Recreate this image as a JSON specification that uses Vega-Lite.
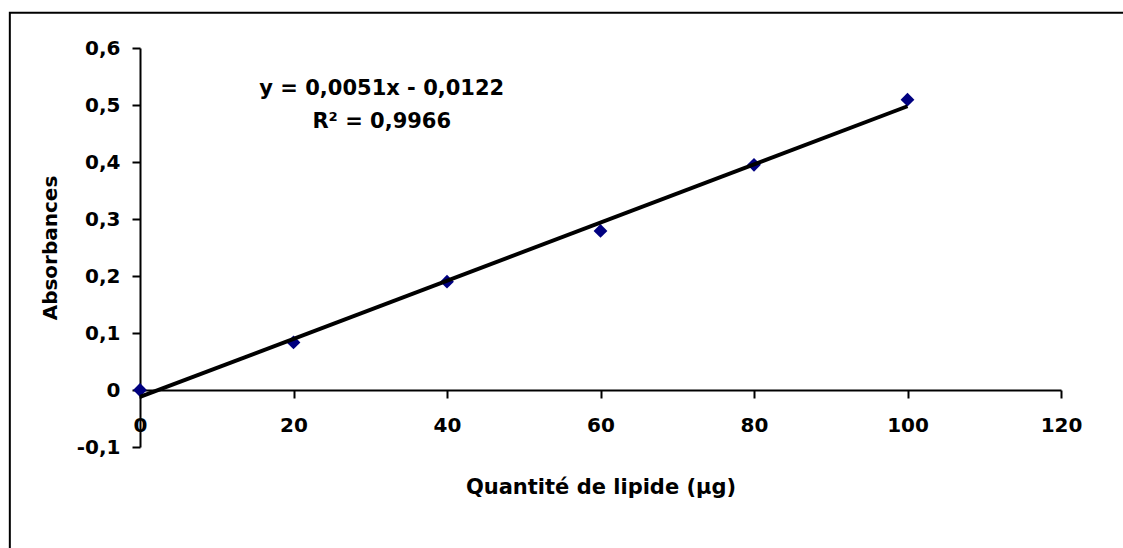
{
  "$schema": "https://vega.github.io/schema/vega-lite/v6.json",
  "width": 921,
  "height": 399,
  "autosize": {"type": "none"},
  "padding": {"left": 140, "top": 48, "right": 62, "bottom": 101},
  "background": "white",
  "config": {
    "view": {"stroke": null},
    "axis": {
      "labelFont": "DejaVu Sans",
      "labelFontWeight": "bold",
      "labelFontSize": 20,
      "labelColor": "black",
      "titleFont": "DejaVu Sans",
      "titleFontWeight": "bold",
      "titleColor": "black",
      "domainColor": "black",
      "tickColor": "black",
      "domainWidth": 2,
      "tickWidth": 2,
      "tickSize": 8,
      "grid": false
    }
  },
  "data": {
    "values": [
      {"quantite": 0, "absorbance": 0},
      {"quantite": 20, "absorbance": 0.0835},
      {"quantite": 40, "absorbance": 0.19},
      {"quantite": 60, "absorbance": 0.279},
      {"quantite": 80, "absorbance": 0.395},
      {"quantite": 100, "absorbance": 0.5093}
    ]
  },
  "layer": [
    {
      "data": {"values": [{}]},
      "mark": {"type": "rect", "fill": null, "stroke": "black", "strokeWidth": 2, "clip": false},
      "encoding": {
        "x": {"datum": -16.96, "type": "quantitative", "scale": {"domain": [0, 120], "nice": false}},
        "x2": {"datum": 140},
        "y": {"datum": 0.6619, "type": "quantitative", "scale": {"domain": [-0.1, 0.6], "nice": false}},
        "y2": {"datum": -0.4}
      }
    },
    {
      "mark": {"type": "point", "shape": "diamond", "filled": true, "color": "#000080", "size": 190, "opacity": 1},
      "encoding": {
        "x": {
          "field": "quantite",
          "type": "quantitative",
          "scale": {"domain": [0, 120], "nice": false},
          "axis": {
            "values": [0, 20, 40, 60, 80, 100, 120],
            "offset": -57,
            "labelPadding": 17,
            "labelFlush": false,
            "labelOverlap": false,
            "title": "Quantité de lipide (µg)",
            "titleFontSize": 21,
            "titlePadding": 41
          }
        },
        "y": {
          "field": "absorbance",
          "type": "quantitative",
          "scale": {"domain": [-0.1, 0.6], "nice": false},
          "axis": {
            "values": [-0.1, 0, 0.1, 0.2, 0.3, 0.4, 0.5, 0.6],
            "labelExpr": "replace(toString(datum.value), '.', ',')",
            "labelPadding": 12,
            "labelOverlap": false,
            "labelFlush": false,
            "title": "Absorbances",
            "titleFontSize": 20,
            "titlePadding": 16
          }
        }
      }
    },
    {
      "transform": [{"regression": "absorbance", "on": "quantite", "extent": [0, 100]}],
      "mark": {"type": "line", "color": "black", "strokeWidth": 4},
      "encoding": {
        "x": {"field": "quantite", "type": "quantitative"},
        "y": {"field": "absorbance", "type": "quantitative"}
      }
    },
    {
      "data": {"values": [{}]},
      "mark": {"type": "text", "font": "DejaVu Sans", "fontWeight": "bold", "fontSize": 21, "align": "center", "baseline": "alphabetic", "lineHeight": 33, "color": "black"},
      "encoding": {
        "x": {"datum": 31.5, "type": "quantitative"},
        "y": {"datum": 0.5184, "type": "quantitative"},
        "text": {"value": ["y = 0,0051x - 0,0122", "R² = 0,9966"]}
      }
    }
  ]
}
